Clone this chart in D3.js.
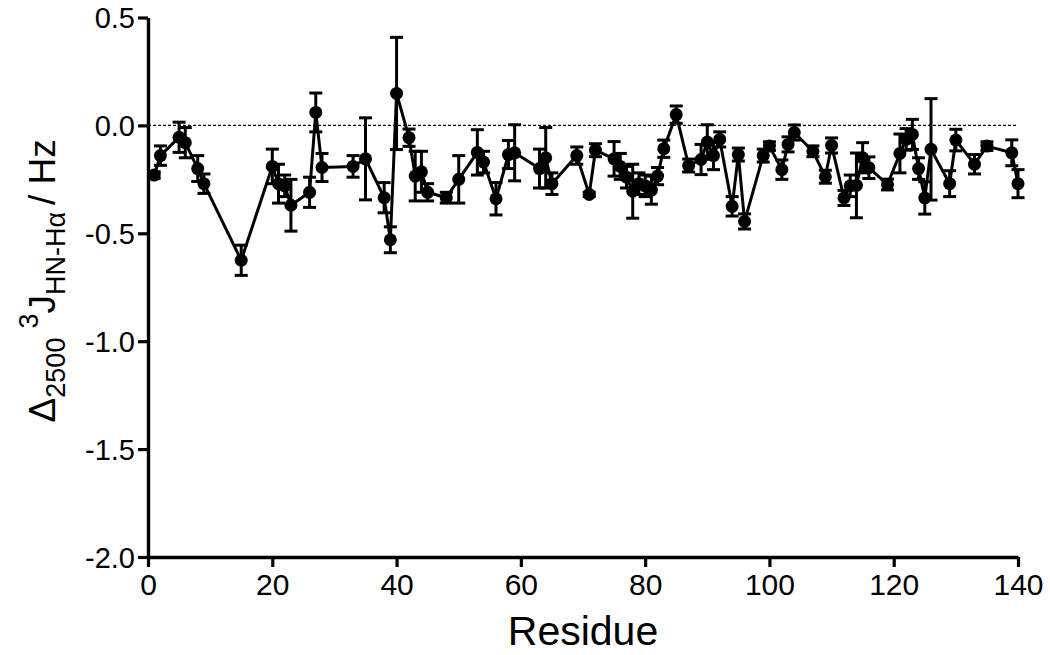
<!DOCTYPE html>
<html>
<head>
<meta charset="utf-8">
<script src="https://cdn.jsdelivr.net/npm/d3@7"></script>
<style>
  html, body { margin: 0; padding: 0; background: #fff; }
  svg { display: block; font-family: "Liberation Sans", Arial, Helvetica, sans-serif; }
</style>
</head>
<body>
<svg id="chart" width="1050" height="655"></svg>
<script>
// Residue numbers
const residues = [1,2,5,6,8,9,15,20,21,22,23,26,27,28,33,35,38,39,40,42,43,44,45,48,50,53,54,56,58,59,63,64,65,69,71,72,75,76,77,78,79,80,81,82,83,85,87,89,90,91,92,94,95,96,99,100,102,103,104,107,109,110,112,113,114,115,116,119,121,122,123,124,125,126,129,130,133,135,139,140];
// Δ2500 3J(HN-Hα) values (Hz)
const values = [-0.23,-0.14,-0.055,-0.08,-0.20,-0.27,-0.625,-0.19,-0.27,-0.28,-0.37,-0.31,0.06,-0.195,-0.19,-0.155,-0.335,-0.53,0.148,-0.057,-0.235,-0.215,-0.31,-0.335,-0.25,-0.125,-0.17,-0.34,-0.135,-0.127,-0.20,-0.15,-0.27,-0.14,-0.32,-0.115,-0.155,-0.19,-0.24,-0.305,-0.27,-0.28,-0.30,-0.235,-0.108,0.05,-0.186,-0.158,-0.077,-0.14,-0.065,-0.375,-0.135,-0.445,-0.14,-0.096,-0.205,-0.088,-0.033,-0.12,-0.238,-0.093,-0.336,-0.28,-0.278,-0.15,-0.196,-0.274,-0.13,-0.065,-0.042,-0.20,-0.336,-0.111,-0.27,-0.068,-0.18,-0.096,-0.127,-0.27];
// Error (± Hz)
const errors = [0.015,0.045,0.07,0.07,0.06,0.045,0.07,0.08,0.09,0.05,0.12,0.07,0.09,0.065,0.05,0.19,0.07,0.06,0.26,0.04,0.115,0.095,0.04,0.025,0.11,0.105,0.05,0.075,0.065,0.13,0.09,0.14,0.05,0.04,0.01,0.03,0.08,0.06,0.05,0.125,0.05,0.05,0.065,0.04,0.04,0.04,0.03,0.07,0.08,0.065,0.035,0.045,0.03,0.035,0.03,0.02,0.045,0.035,0.035,0.025,0.03,0.035,0.035,0.05,0.15,0.07,0.05,0.025,0.09,0.05,0.07,0.05,0.075,0.235,0.06,0.05,0.045,0.02,0.06,0.065];
const xTicks = [0,20,40,60,80,100,120,140];
const yTicks = [-2.0,-1.5,-1.0,-0.5,0.0,0.5];

const data = residues.map((r,i) => ({r, v: values[i], e: errors[i]}));

const svg = d3.select("#chart");
const x = d3.scaleLinear().domain([0,140]).range([148,1018]);
const y = d3.scaleLinear().domain([-2,0.5]).range([557,17.5]);

// zero dotted line
svg.append("line")
  .attr("x1", x(0)).attr("x2", x(140))
  .attr("y1", y(0)).attr("y2", y(0))
  .attr("stroke", "#000").attr("stroke-width", 1.4)
  .attr("stroke-dasharray", "3,2");

// axes
const yAxis = d3.axisLeft(y).tickValues(yTicks).tickFormat(d => d.toFixed(1)).tickSize(10).tickSizeOuter(0).tickPadding(3);
const xAxis = d3.axisBottom(x).tickValues(xTicks).tickFormat(d => d).tickSize(10).tickSizeOuter(0).tickPadding(6);

const gy = svg.append("g").attr("transform", `translate(${x(0)},0)`).call(yAxis);
const gx = svg.append("g").attr("transform", `translate(0,${y(-2)})`).call(xAxis);
[gx, gy].forEach(g => {
  g.select(".domain").attr("stroke-width", 3.4).attr("stroke", "#000");
  g.selectAll(".tick line").attr("stroke-width", 3.2).attr("stroke", "#000");
  g.selectAll(".tick text").attr("fill", "#000")
    .attr("font-family", "'Liberation Sans', Arial, sans-serif");
});
gy.selectAll(".tick text").attr("font-size", 29).attr("dy", "0.36em");
gx.selectAll(".tick text").attr("font-size", 30).attr("dy", "0.74em");

// error bars
const eb = svg.append("g").attr("stroke", "#000").attr("stroke-width", 3);
data.forEach(d => {
  const cx = x(d.r), y1 = y(d.v + d.e), y2 = y(d.v - d.e);
  eb.append("line").attr("x1", cx).attr("x2", cx).attr("y1", y1).attr("y2", y2);
  eb.append("line").attr("x1", cx-6.5).attr("x2", cx+6.5).attr("y1", y1).attr("y2", y1);
  eb.append("line").attr("x1", cx-6.5).attr("x2", cx+6.5).attr("y1", y2).attr("y2", y2);
});

// connecting line
svg.append("path").datum(data)
  .attr("fill", "none").attr("stroke", "#000").attr("stroke-width", 3)
  .attr("stroke-linejoin", "round")
  .attr("d", d3.line().x(d => x(d.r)).y(d => y(d.v)));

// markers
svg.append("g").selectAll("circle").data(data).join("circle")
  .attr("cx", d => x(d.r)).attr("cy", d => y(d.v)).attr("r", 6.5).attr("fill", "#000");

// x title
svg.append("text").attr("x", x(70)).attr("y", 645).attr("text-anchor", "middle")
  .attr("font-size", 41).attr("fill", "#000").text("Residue");

// y title
const yt = svg.append("text")
  .attr("transform", `translate(55,${y(-0.72)}) rotate(-90)`)
  .attr("text-anchor", "middle").attr("font-size", 37).attr("fill", "#000");
yt.append("tspan").text("Δ");
yt.append("tspan").attr("font-size", 27).attr("dy", 10).text("2500");
yt.append("tspan").attr("font-size", 27).attr("dy", -27).attr("dx", 9).text("3");
yt.append("tspan").attr("dy", 17).text("J");
yt.append("tspan").attr("font-size", 27).attr("dy", 10).text("HN-Hα");
yt.append("tspan").attr("dy", -10).attr("dx", 7).text("/ Hz");
</script>
</body>
</html>
